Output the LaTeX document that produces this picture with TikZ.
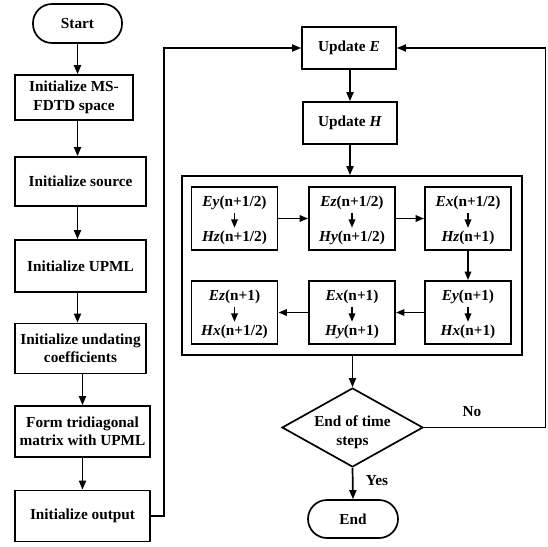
\documentclass[tikz,border=0pt]{standalone}
\usepackage{fontspec}
\setmainfont{Liberation Serif}
\usetikzlibrary{shapes.geometric,arrows.meta,calc}
\begin{document}
\begin{tikzpicture}[x=1pt,y=-1pt,
  font=\fontsize{15.3}{18.5}\selectfont\bfseries,
  box/.style={draw,line width=1.7pt,align=center,inner sep=0pt},
  inbox/.style={draw,line width=1.9pt,minimum width=86pt,minimum height=63pt,inner sep=0pt},
  arr/.style={line width=1.7pt,-{Triangle[width=7pt,length=9pt]}},
  sarr/.style={line width=1.7pt,-{Triangle[width=6.5pt,length=8.5pt]}}]
\useasboundingbox (0,0) rectangle (548,546);

% left column
\node[box,rounded corners=19pt,minimum width=89pt,minimum height=39pt] (start) at (77.5,23.5) {Start};
\node[box,minimum width=118pt,minimum height=45pt] (ms) at (74,97.5) {Initialize MS-\\FDTD space};
\node[box,minimum width=131pt,minimum height=49pt] (src) at (80.5,181.5) {Initialize source};
\node[box,minimum width=131pt,minimum height=52pt] (upml) at (80.5,266) {Initialize UPML};
\node[box,minimum width=131pt,minimum height=50pt] (undat) at (80.5,348.5) {Initialize undating\\coefficients};
\node[box,minimum width=135pt,minimum height=51pt] (form) at (82.5,431.5) {Form tridiagonal\\matrix with UPML};
\node[box,minimum width=135pt,minimum height=51pt] (out) at (82.5,516) {Initialize output};

\draw[arr] (start.south) -- (start.south |- ms.north);
\draw[arr] (start.south |- ms.south) -- (start.south |- src.north);
\draw[arr] (start.south |- src.south) -- (start.south |- upml.north);
\draw[arr] (start.south |- upml.south) -- (start.south |- undat.north);
\draw[arr] (form.north |- undat.south) -- (form.north);
\draw[arr] (form.south) -- (out.north);

% right column
\node[box,minimum width=94pt,minimum height=42pt] (updE) at (349,48) {Update \textit{E}};
\node[box,minimum width=94pt,minimum height=42pt] (updH) at (350,123) {Update \textit{H}};
\node[draw,line width=1.7pt,minimum width=340pt,minimum height=179pt,inner sep=0pt] (outer) at (352,265.5) {};

\draw[arr] (out.east) -- ++(13,0) |- (updE.west);
\draw[arr] (updE.south -| updH.south) -- (updH.north);
\draw[arr] (updH.south) -- (updH.south |- outer.north);

% inner boxes
\node[inbox] (b1) at (234.5,218.5) {};
\node[inbox] (b2) at (352,218.5) {};
\node[inbox] (b3) at (468,218.5) {};
\node[inbox] (b4) at (234.5,312.5) {};
\node[inbox] (b5) at (352,312.5) {};
\node[inbox] (b6) at (468,312.5) {};

\foreach \b/\t/\u in {b1/{\textit{Ey}(n+1/2)}/{\textit{Hz}(n+1/2)},
                      b2/{\textit{Ez}(n+1/2)}/{\textit{Hy}(n+1/2)},
                      b3/{\textit{Ex}(n+1/2)}/{\textit{Hz}(n+1)},
                      b4/{\textit{Ez}(n+1)}/{\textit{Hx}(n+1/2)},
                      b5/{\textit{Ex}(n+1)}/{\textit{Hy}(n+1)},
                      b6/{\textit{Ey}(n+1)}/{\textit{Hx}(n+1)}}{
  \node[inner sep=0pt] (\b t) at ($(\b.center)+(0,-16)$) {\t};
  \node[inner sep=0pt] (\b u) at ($(\b.center)+(0,19.5)$) {\u};
  \draw[sarr] ($(\b t.south)+(0,3)$) -- ($(\b u.north)+(0,-3)$);
}

\draw[sarr] (b1.east) -- (b2.west);
\draw[sarr] (b2.east) -- (b3.west);
\draw[sarr] (b3.south) -- (b6.north);
\draw[sarr] (b6.west) -- (b5.east);
\draw[sarr] (b5.west) -- (b4.east);

% decision
\node[draw,diamond,aspect=1.78,line width=1.7pt,minimum width=141pt,minimum height=79pt,inner sep=0pt] (dec) at (352.5,427.5) {};
\node[inner sep=0pt,align=center] (dect) at (352.5,432) {End of time\\steps};
\node[box,rounded corners=19pt,minimum width=90pt,minimum height=38pt] (end) at (353,519) {End};

\draw[arr] (outer.south -| dec.north) -- (dec.north);
\draw[arr] (dec.south) -- (end.north);
\draw[arr] (dec.east) -- ++(121.5,0) |- (updE.east);

\node[inner sep=0pt] (no) at (472,412) {No};
\node[inner sep=0pt] (yes) at (377,481) {Yes};
\end{tikzpicture}
\end{document}
